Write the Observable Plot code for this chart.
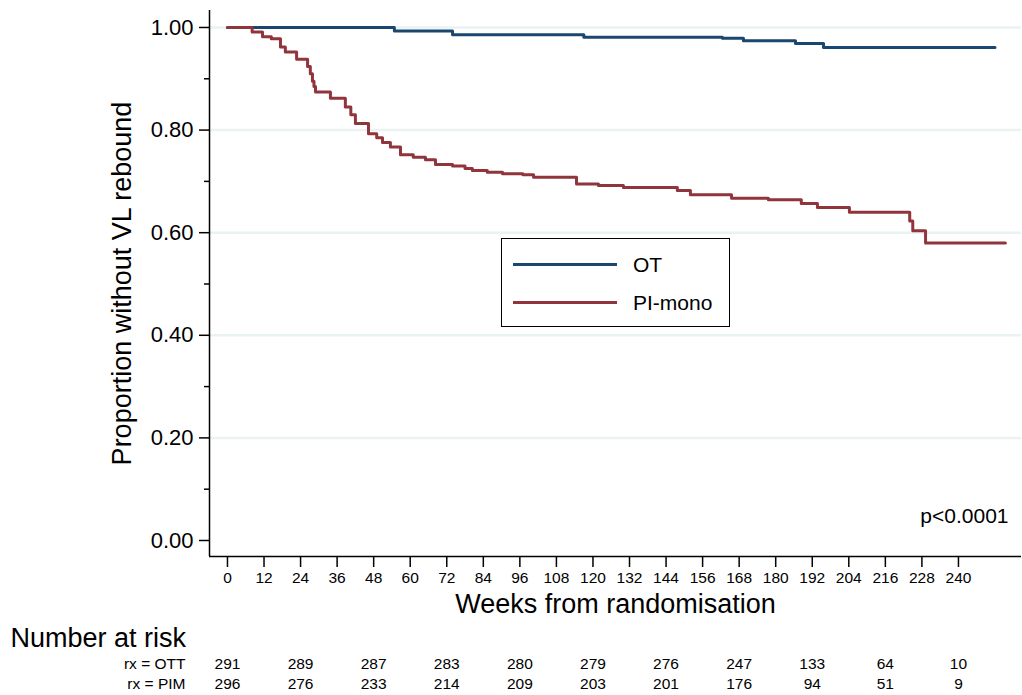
<!DOCTYPE html>
<html>
<head>
<meta charset="utf-8">
<script src="https://cdn.jsdelivr.net/npm/d3@7"></script>
<script src="https://cdn.jsdelivr.net/npm/@observablehq/plot@0.6"></script>
<style>
  html, body { margin: 0; padding: 0; background: #fff; }
  #wrap { position: relative; width: 1022px; height: 695px; font-family: "Liberation Sans", Arial, sans-serif; }
  #legend { position: absolute; left: 501px; top: 238px; width: 227px; height: 87px; border: 1.5px solid #000; background: #fff; }
  .lg { position: absolute; left: 11px; width: 104px; height: 0; border-top: 3px solid; }
  .lt { position: absolute; left: 131px; font-size: 21px; line-height: 21px; color: #000; }
</style>
</head>
<body>
<div id="wrap"></div>
<script>
// ---- data ----
const otWeeks = [0, 54.8, 73.9, 117, 162.5, 169.4, 186.5, 195.7, 252];
const otSurv  = [1, 0.993, 0.986, 0.981, 0.979, 0.974, 0.969, 0.961, 0.961];

const pimWeeks = [0, 8.1, 11.5, 14.4, 17.4, 19, 22.7, 26.3, 27.2, 27.9, 28.4, 28.9, 33.8, 38.7, 40.5, 42, 46.3, 49, 50.9, 53.5, 56.8, 61, 65, 68.3, 73.9, 78, 80.4, 85.3, 90.3, 97, 100.5, 114.6, 121.8, 130, 147.7, 152, 165.5, 177.6, 188.4, 193.7, 204.2, 224, 225, 229.2, 255.4];
const pimSurv  = [1, 0.991, 0.982, 0.978, 0.962, 0.952, 0.938, 0.924, 0.910, 0.895, 0.885, 0.874, 0.862, 0.845, 0.830, 0.813, 0.793, 0.785, 0.776, 0.767, 0.752, 0.747, 0.742, 0.733, 0.730, 0.725, 0.721, 0.718, 0.715, 0.713, 0.708, 0.695, 0.692, 0.688, 0.682, 0.674, 0.667, 0.664, 0.657, 0.649, 0.640, 0.623, 0.604, 0.580, 0.580];

const seriesNames = ["OT", "PI-mono"];
const seriesColors = ["#1a476f", "#90353b"];

const xTicks = d3.range(0, 241, 12);
const yMajor = [0, 0.2, 0.4, 0.6, 0.8, 1.0];
const yMinor = [0.1, 0.3, 0.5, 0.7, 0.9];
const yGrid = [0.2, 0.4, 0.6, 0.8, 1.0];

const riskWeeks = [0, 24, 48, 72, 96, 120, 144, 168, 192, 216, 240];
const riskOTT = [291, 289, 287, 283, 280, 279, 276, 247, 133, 64, 10];
const riskPIM = [296, 276, 233, 214, 209, 203, 201, 176, 94, 51, 9];
const riskLabels = ["rx = OTT", "rx = PIM"];

// ---- build ----
const ot = otWeeks.map((w, i) => ({week: w, surv: otSurv[i], group: seriesNames[0]}));
const pim = pimWeeks.map((w, i) => ({week: w, surv: pimSurv[i], group: seriesNames[1]}));

const xDomain = [-5.9, 260.7];
const yDomain = [-0.0312, 1.0331];
const txt = {fill: "#000", lineAnchor: "bottom"};

const chart = Plot.plot({
  width: 1022,
  height: 695,
  marginLeft: 209,
  marginRight: 1,
  marginTop: 10,
  marginBottom: 139,
  style: {fontFamily: '"Liberation Sans", Arial, sans-serif', color: "#000", background: "#fff"},
  x: {domain: xDomain, label: null},
  y: {domain: yDomain, label: null},
  color: {domain: seriesNames, range: seriesColors},
  marks: [
    Plot.gridY(yGrid, {stroke: "#eaf2f3", strokeOpacity: 1, strokeWidth: 2.5}),
    Plot.ruleX([xDomain[0]], {stroke: "#000", strokeWidth: 1.5}),
    Plot.ruleY([yDomain[0]], {stroke: "#000", strokeWidth: 1.5}),
    Plot.axisY({ticks: yMajor, tickFormat: d3.format(".2f"), tickSize: 10, tickPadding: 6, fontSize: 22, strokeWidth: 1.5, label: null}),
    Plot.axisY({ticks: yMinor, tickFormat: () => "", tickSize: 5, strokeWidth: 1.5, label: null}),
    Plot.axisX({ticks: xTicks, tickSize: 11, tickPadding: 4, fontSize: 15.5, strokeWidth: 1.5, label: null}),
    Plot.line(ot, {x: "week", y: "surv", stroke: "group", curve: "step-after", strokeWidth: 3}),
    Plot.line(pim, {x: "week", y: "surv", stroke: "group", curve: "step-after", strokeWidth: 3}),
    // axis titles
    Plot.text(["Proportion without VL rebound"], {text: d => d, frameAnchor: "left", textAnchor: "middle", lineAnchor: "middle", rotate: -90, dx: -87, fontSize: 27, fill: "#000"}),
    Plot.text(["Weeks from randomisation"], {...txt, text: d => d, frameAnchor: "bottom", textAnchor: "middle", dy: 56, fontSize: 27}),
    Plot.text(["p<0.0001"], {...txt, text: d => d, frameAnchor: "bottom-right", textAnchor: "end", dx: -13, dy: -34, fontSize: 21}),
    // number at risk
    Plot.text(["Number at risk"], {...txt, text: d => d, frameAnchor: "bottom-left", textAnchor: "start", dx: -199, dy: 90, fontSize: 27}),
    Plot.text([riskLabels[0]], {...txt, text: d => d, frameAnchor: "bottom-left", textAnchor: "end", dx: -24, dy: 112, fontSize: 15.5}),
    Plot.text([riskLabels[1]], {...txt, text: d => d, frameAnchor: "bottom-left", textAnchor: "end", dx: -24, dy: 132, fontSize: 15.5}),
    Plot.text(riskWeeks, {...txt, x: d => d, text: (d, i) => String(riskOTT[i]), frameAnchor: "bottom", textAnchor: "middle", dy: 112, fontSize: 15.5}),
    Plot.text(riskWeeks, {...txt, x: d => d, text: (d, i) => String(riskPIM[i]), frameAnchor: "bottom", textAnchor: "middle", dy: 132, fontSize: 15.5})
  ]
});

const wrap = document.getElementById("wrap");
wrap.appendChild(chart);

// legend (HTML overlay)
const legend = document.createElement("div");
legend.id = "legend";
seriesNames.forEach((name, i) => {
  const ln = document.createElement("div");
  ln.className = "lg";
  ln.style.top = (i === 0 ? 24 : 62) + "px";
  ln.style.borderTopColor = seriesColors[i];
  const tx = document.createElement("div");
  tx.className = "lt";
  tx.style.top = (i === 0 ? 15 : 53) + "px";
  tx.textContent = name;
  legend.appendChild(ln);
  legend.appendChild(tx);
});
wrap.appendChild(legend);
</script>
</body>
</html>
